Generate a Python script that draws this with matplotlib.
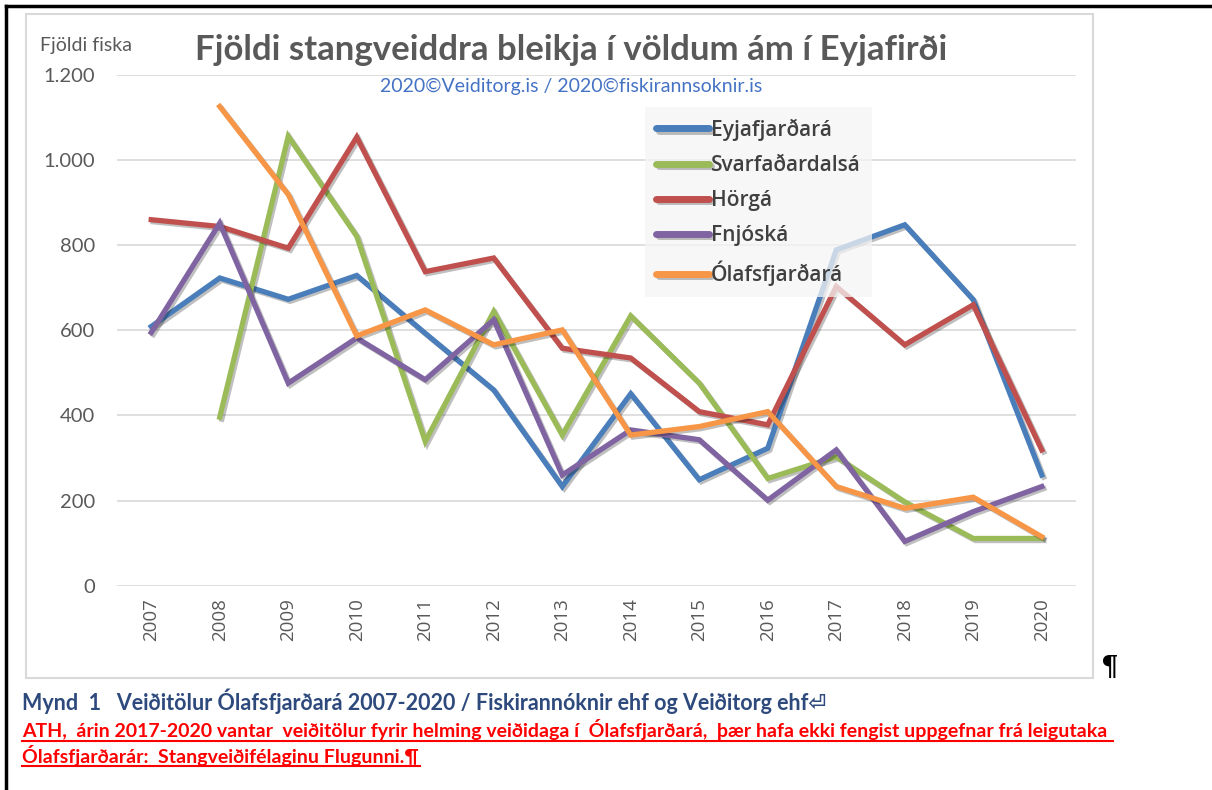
import numpy as np
import matplotlib.pyplot as plt
from matplotlib.patches import Rectangle
from matplotlib.lines import Line2D
import matplotlib.patheffects as pe
from matplotlib.ticker import FuncFormatter

plt.rcParams['font.family'] = ['Lato', 'DejaVu Sans']

# ár og veiðitölur
years = ['2007', '2008', '2009', '2010', '2011', '2012', '2013',
         '2014', '2015', '2016', '2017', '2018', '2019', '2020']
nan = np.nan
eyjafjardara = [609, 723, 673, 729, 593, 460, 233, 451, 249, 323, 789, 848, 672, 260]
svarfadardalsa = [nan, 396, 1056, 821, 339, 644, 354, 634, 476, 252, 303, 197, 111, 111]
horga = [860, 844, 793, 1054, 738, 770, 558, 535, 409, 378, 703, 566, 660, 319]
fnjoska = [595, 852, 476, 582, 484, 625, 260, 366, 343, 201, 319, 104, 174, 233]
olafsfjardara = [nan, 1126, 919, 587, 648, 566, 601, 354, 374, 409, 233, 182, 208, 115]

series = [
    ('Eyjafjarðará', eyjafjardara, '#4A7EBB'),
    ('Svarfaðardalsá', svarfadardalsa, '#9BBB59'),
    ('Hörgá', horga, '#C0504D'),
    ('Fnjóská', fnjoska, '#8064A2'),
    ('Ólafsfjarðará', olafsfjardara, '#F79646'),
]

W, H = 1212, 790
fig = plt.figure(figsize=(W / 100, H / 100), dpi=100)

# rammar (síðan og myndin)
fig.add_artist(Line2D([6 / W, 1], [1 - 6 / H, 1 - 6 / H], color='black', lw=2.5))
fig.add_artist(Line2D([6 / W, 6 / W], [0, 1 - 6 / H], color='black', lw=2.5))
fig.add_artist(Rectangle((26 / W, 1 - 678 / H), (1093 - 26) / W, (678 - 14) / H,
                         transform=fig.transFigure, fill=False,
                         edgecolor='#D9D9D9', lw=1.5))

ax = fig.add_axes([117 / W, 1 - 585.7 / H, (1076 - 117) / W, (585.7 - 75) / H])
x = np.arange(len(years))
shadow = [pe.SimpleLineShadow(offset=(1.5, -1.5), alpha=0.25), pe.Normal()]
for name, vals, col in series:
    ax.plot(x, vals, color=col, lw=3.8, label=name,
            solid_joinstyle='miter', path_effects=shadow)

ax.set_xlim(-0.5, len(years) - 0.5)
ax.set_ylim(0, 1200)
ax.set_yticks(range(0, 1201, 200))
ax.yaxis.set_major_formatter(FuncFormatter(lambda v, p: f'{int(v):,}'.replace(',', '.')))
ax.set_xticks(x)
ax.set_xticklabels(years, rotation=90, fontsize=13.5, family='Open Sans')
ax.grid(axis='y', color='#D9D9D9', lw=1.2)
ax.set_axisbelow(True)
for s in ax.spines.values():
    s.set_visible(False)
ax.tick_params(length=0, colors='#595959')
ax.tick_params(axis='y', pad=16, labelsize=14.5)
ax.tick_params(axis='x', pad=9)

leg = ax.legend(loc='upper left', bbox_to_anchor=((645 - 117) / (1076 - 117), 1 - (107 - 75) / (585.7 - 75)),
                frameon=True, fancybox=False, framealpha=0.75, facecolor='#F5F5F5',
                edgecolor='none', prop={'family': 'Open Sans', 'size': 15, 'weight': 'semibold'},
                handlelength=2.5, handletextpad=0.12,
                labelspacing=0.68, borderpad=0.55, borderaxespad=0)
for t in leg.get_texts():
    t.set_color('#404040')
for h in leg.get_lines():
    h.set_linewidth(5)
    h.set_solid_capstyle('round')

fig.text(40 / W, 1 - 46 / H, 'Fjöldi fiska', fontsize=14, color='#595959', va='center')
fig.text(571 / W, 1 - 50 / H, 'Fjöldi stangveiddra bleikja í völdum ám í Eyjafirði',
         fontsize=25, fontweight='bold', color='#595959', ha='center', va='center')
fig.text(571 / W, 1 - 86 / H, '2020©Veiditorg.is / 2020©fiskirannsoknir.is',
         fontsize=14, color='#4472C4', ha='center', va='center')

fig.text(1101 / W, 1 - 668 / H, '¶', fontsize=20, fontweight='bold', color='black',
         family='DejaVu Serif', va='center')
fig.text(22 / W, 1 - 701 / H,
         'Mynd  1   Veiðitölur Ólafsfjarðará 2007-2020 / Fiskirannóknir ehf og Veiðitorg ehf⏎',
         fontsize=15.5, fontweight='bold', color='#2E4A7D', va='center',
         family=['Lato', 'DejaVu Sans'])
fig.text(22 / W, 1 - 730 / H,
         'ATH,  árin 2017-2020 vantar  veiðitölur fyrir helming veiðidaga í  Ólafsfjarðará,  þær hafa ekki fengist uppgefnar frá leigutaka',
         fontsize=14, fontweight='bold', color='#FF0000', va='center')
fig.text(22 / W, 1 - 755 / H, 'Ólafsfjarðarár:  Stangveiðifélaginu Flugunni.¶',
         fontsize=14, fontweight='bold', color='#FF0000', va='center')
fig.add_artist(Line2D([22 / W, 1113 / W], [1 - 741 / H, 1 - 741 / H], color='#FF0000', lw=1.5))
fig.add_artist(Line2D([22 / W, 420 / W], [1 - 766 / H, 1 - 766 / H], color='#FF0000', lw=1.5))

fig.savefig('out.png', dpi=100)
